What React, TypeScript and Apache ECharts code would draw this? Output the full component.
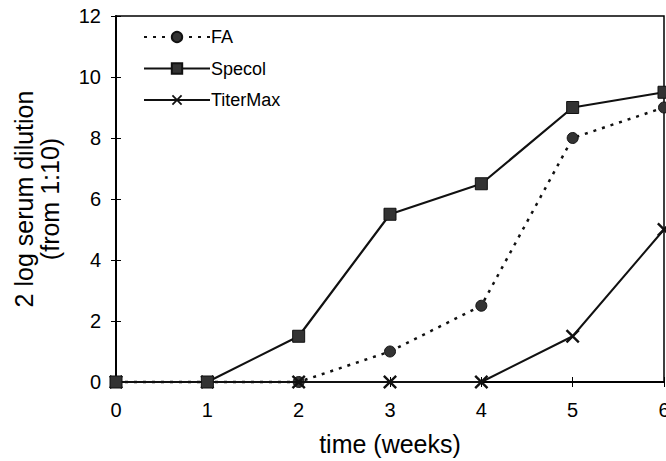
import React, { useEffect, useRef } from "react";
import * as echarts from "echarts";

const weeks = [0, 1, 2, 3, 4, 5, 6];
const faValues = [0, 0, 0, 1, 2.5, 8, 9];
const specolValues = [0, 0, 1.5, 5.5, 6.5, 9, 9.5];
const titerMaxValues = [0, 0, 0, 0, 0, 1.5, 5];
const seriesNames = ["FA", "Specol", "TiterMax"];
const xTitle = "time (weeks)";
const yTitle = "2 log serum dilution\n(from 1:10)";

const FONT = "Liberation Sans, Arial, sans-serif";
const X_SYMBOL =
  "path://M0,1.2 L1.2,0 L5,3.8 L8.8,0 L10,1.2 L6.2,5 L10,8.8 L8.8,10 L5,6.2 L1.2,10 L0,8.8 L3.8,5 Z";

export default function App() {
  const ref = useRef<HTMLDivElement>(null);
  useEffect(() => {
    if (!ref.current) return;
    const chart = echarts.init(ref.current, null, { renderer: "svg" });
    const pair = (vals: number[]) => weeks.map((w, i) => [w, vals[i]]);
    const baseX = {
      type: "value",
      min: 0,
      max: 6,
      interval: 1,
      splitLine: { show: false },
    };
    const baseY = {
      type: "value",
      min: 0,
      max: 12,
      interval: 2,
      splitLine: { show: false },
    };
    chart.setOption({
      animation: false,
      backgroundColor: "#fff",
      textStyle: { fontFamily: FONT, color: "#000" },
      grid: {
        left: 116,
        top: 16,
        right: 2,
        bottom: 79,
        show: true,
        borderColor: "#000",
        borderWidth: 1.5,
        containLabel: false,
        outerBoundsMode: "none",
      },
      legend: {
        orient: "vertical",
        left: 138,
        top: 23,
        itemWidth: 66,
        itemHeight: 13,
        itemGap: 13.5,
        data: seriesNames,
        textStyle: { fontSize: 18, color: "#000", fontFamily: FONT, padding: [0, 0, 0, -4] },
      },
      xAxis: [
        {
          ...baseX,
          name: xTitle,
          nameLocation: "middle",
          nameGap: 49,
          nameTextStyle: { fontSize: 25, color: "#000", fontFamily: FONT },
          axisLine: { lineStyle: { color: "#000", width: 2 } },
          axisTick: { show: true, length: 5, lineStyle: { color: "#000", width: 1 } },
          axisLabel: { fontSize: 20, color: "#000", margin: 18, fontFamily: FONT },
        },
        {
          ...baseX,
          position: "bottom",
          axisLine: { show: false },
          axisTick: { show: true, inside: true, length: 5, lineStyle: { color: "#000", width: 1 } },
          axisLabel: { show: false },
        },
      ],
      yAxis: [
        {
          ...baseY,
          name: yTitle,
          nameLocation: "middle",
          nameGap: 53,
          nameTextStyle: { fontSize: 25, color: "#000", fontFamily: FONT, lineHeight: 26 },
          axisLine: { lineStyle: { color: "#000", width: 2 } },
          axisTick: { show: true, length: 5, lineStyle: { color: "#000", width: 1 } },
          axisLabel: { fontSize: 20, color: "#000", margin: 15, fontFamily: FONT },
        },
        {
          ...baseY,
          position: "left",
          axisLine: { show: false },
          axisTick: { show: true, inside: true, length: 5, lineStyle: { color: "#000", width: 1 } },
          axisLabel: { show: false },
        },
      ],
      series: [
        {
          name: seriesNames[0],
          type: "line",
          data: pair(faValues),
          symbol: "circle",
          symbolSize: 11,
          showAllSymbol: true,
          clip: false,
          lineStyle: { color: "#111", width: 2.5, type: [3, 6] },
          itemStyle: { color: "#333", borderColor: "#111", borderWidth: 1 },
          z: 2,
        },
        {
          name: seriesNames[1],
          type: "line",
          data: pair(specolValues),
          symbol: "rect",
          symbolSize: 12,
          clip: false,
          lineStyle: { color: "#111", width: 2.2 },
          itemStyle: { color: "#333", borderColor: "#111", borderWidth: 1 },
          z: 4,
        },
        {
          name: seriesNames[2],
          type: "line",
          data: pair(titerMaxValues),
          symbol: X_SYMBOL,
          symbolSize: 14,
          clip: false,
          lineStyle: { color: "#111", width: 2 },
          itemStyle: { color: "#111" },
          z: 3,
        },
      ],
    });
    return () => chart.dispose();
  }, []);
  return (
    <div
      ref={ref}
      style={{ position: "fixed", left: 0, top: 0, width: 666, height: 461, background: "#fff" }}
    />
  );
}
